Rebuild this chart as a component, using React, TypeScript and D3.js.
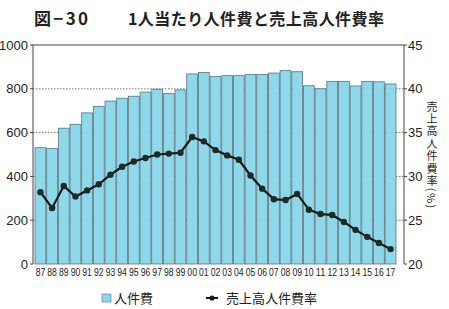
import { useEffect, useRef } from 'react'
import * as d3 from 'd3'

// 年度ラベル (1987〜2017)
const years = ['87','88','89','90','91','92','93','94','95','96','97','98','99','00','01','02','03','04','05','06','07','08','09','10','11','12','13','14','15','16','17']
// 1人当たり人件費 (左軸)
const laborCost = [531,527,620,638,690,720,744,757,766,785,798,778,795,868,874,856,860,860,865,865,872,883,878,814,800,834,834,813,834,832,822]
// 売上高人件費率 % (右軸)
const laborRatio = [28.2,26.4,28.9,27.7,28.4,29.1,30.2,31.1,31.7,32.1,32.5,32.6,32.7,34.5,34.0,33.0,32.4,31.9,30.1,28.6,27.4,27.3,28.0,26.2,25.7,25.6,24.8,23.9,23.1,22.4,21.7]
const leftTicks = [0,200,400,600,800,1000]
const rightTicks = [20,25,30,35,40,45]

const W = 449, H = 309
const X0 = 33, X1 = 404, Y0 = 264, Y1 = 45
const NUM_FONT = '"Liberation Sans Narrow", "Liberation Sans", Arial, sans-serif'
const JP_FONT = '"Noto Sans CJK JP", sans-serif'

export default function App() {
  const svgRef = useRef<SVGSVGElement>(null)

  useEffect(() => {
    const svg = d3.select(svgRef.current)
    svg.selectAll('*').remove()

    const x = d3.scaleBand<string>().domain(years).range([35, 396]).paddingInner(0.07).paddingOuter(0)
    const yL = d3.scaleLinear().domain([0, 1000]).range([Y0, Y1])
    const yR = d3.scaleLinear().domain([20, 45]).range([Y0, Y1])

    svg.append('rect').attr('width', W).attr('height', H).attr('fill', '#fff')

    // タイトル
    svg.append('text').attr('x', 34).attr('y', 25).attr('font-family', JP_FONT)
      .attr('font-size', 17).attr('font-weight', 700).attr('fill', '#222')
      .attr('textLength', 54).text('図−30')
    svg.append('text').attr('x', 128).attr('y', 25).attr('font-family', JP_FONT)
      .attr('font-size', 16).attr('font-weight', 700).attr('fill', '#222')
      .attr('textLength', 256).text('1人当たり人件費と売上高人件費率')

    // 点線グリッド
    svg.append('g').selectAll('line').data(leftTicks.filter(t => t > 0 && t < 1000)).join('line')
      .attr('x1', X0).attr('x2', X1).attr('y1', d => yL(d)).attr('y2', d => yL(d))
      .attr('stroke', '#555').attr('stroke-width', 0.8).attr('stroke-dasharray', '1.5 1.5')

    // 棒
    svg.append('g').selectAll('rect').data(laborCost).join('rect')
      .attr('x', (_, i) => x(years[i])!).attr('width', x.bandwidth())
      .attr('y', d => yL(d)).attr('height', d => Y0 - yL(d))
      .attr('fill', '#8dd8ea').attr('stroke', '#5f7479').attr('stroke-width', 0.8)

    // 枠
    svg.append('path').attr('d', `M${X0},${Y0}V${Y1}H${X1}V${Y0}`)
      .attr('fill', 'none').attr('stroke', '#444').attr('stroke-width', 1)

    // 左軸
    const gl = svg.append('g')
    gl.selectAll('line').data(leftTicks).join('line')
      .attr('x1', X0 - 3).attr('x2', X0).attr('y1', d => yL(d)).attr('y2', d => yL(d))
      .attr('stroke', '#444')
    gl.selectAll('text').data(leftTicks).join('text')
      .attr('x', 28).attr('y', d => yL(d) + 4.5).attr('text-anchor', 'end')
      .attr('font-family', NUM_FONT).attr('font-size', 13).attr('fill', '#222').text(d => d)

    // 右軸
    const gr = svg.append('g')
    gr.selectAll('line').data(rightTicks).join('line')
      .attr('x1', X1).attr('x2', X1 + 3).attr('y1', d => yR(d)).attr('y2', d => yR(d))
      .attr('stroke', '#444')
    gr.selectAll('text').data(rightTicks).join('text')
      .attr('x', 408).attr('y', d => yR(d) + 4.5)
      .attr('font-family', NUM_FONT).attr('font-size', 13).attr('fill', '#222').text(d => d)

    // 右軸タイトル (縦書き)
    svg.append('text').attr('x', 432).attr('y', 101)
      .style('writing-mode', 'vertical-rl').style('text-orientation', 'mixed')
      .attr('font-family', JP_FONT).attr('font-size', 11).attr('letter-spacing', 1.4)
      .attr('fill', '#222').text('売上高人件費率(%)')

    // X軸ラベル
    svg.append('g').selectAll('text').data(years).join('text')
      .attr('x', d => x(d)! + x.bandwidth() / 2 - 4.8).attr('y', 276)
      .attr('font-family', NUM_FONT).attr('font-size', 10.5)
      .attr('textLength', 9.6).attr('lengthAdjust', 'spacingAndGlyphs')
      .attr('fill', '#222').text(d => d)

    // 折れ線
    const line = d3.line<number>()
      .x((_, i) => x(years[i])! + x.bandwidth() / 2)
      .y(d => yR(d))
    svg.append('path').datum(laborRatio).attr('d', line)
      .attr('fill', 'none').attr('stroke', '#1a1a1a').attr('stroke-width', 2.2)
    svg.append('g').selectAll('circle').data(laborRatio).join('circle')
      .attr('cx', (_, i) => x(years[i])! + x.bandwidth() / 2).attr('cy', d => yR(d))
      .attr('r', 3.2).attr('fill', '#1f2a24')

    // 凡例
    const lg = svg.append('g').attr('font-family', JP_FONT).attr('font-size', 13).attr('fill', '#222')
    lg.append('rect').attr('x', 102).attr('y', 294).attr('width', 9).attr('height', 8)
      .attr('fill', '#8dd8ea').attr('stroke', '#5f7479').attr('stroke-width', 0.6)
    lg.append('text').attr('x', 114).attr('y', 303).text('人件費')
    lg.append('line').attr('x1', 206).attr('x2', 218).attr('y1', 298).attr('y2', 298)
      .attr('stroke', '#1a1a1a').attr('stroke-width', 2)
    lg.append('circle').attr('cx', 212).attr('cy', 298).attr('r', 2.6).attr('fill', '#1a1a1a')
    lg.append('text').attr('x', 226).attr('y', 303).text('売上高人件費率')
  }, [])

  return <svg ref={svgRef} width={W} height={H} style={{ position: 'absolute', left: 0, top: 0 }} />
}
